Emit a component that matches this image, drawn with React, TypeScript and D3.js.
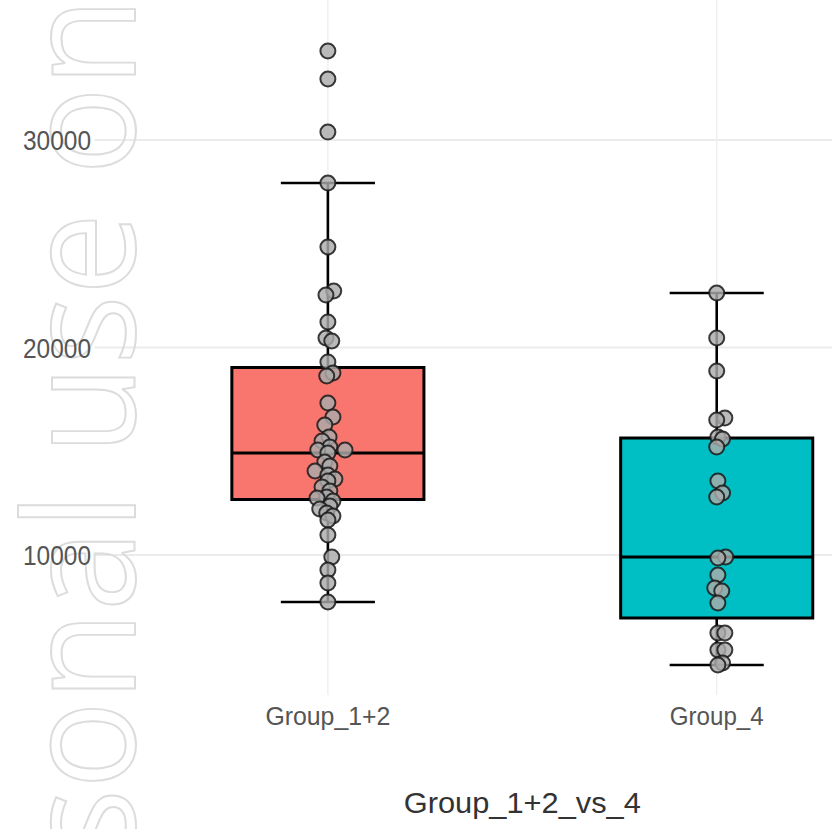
import React, { useEffect, useRef } from "react";
import * as d3 from "d3";

const categories = ["Group_1+2", "Group_4"];
const fills = ["#F8766D", "#00BFC4"];

const group12Values = [
  34289, 32939, 30384, 27927, 24843, 22722, 22530, 21228, 20457, 20313, 19301,
  18771, 18626, 17325, 16650, 16265, 15686, 15494, 15205, 15060, 15060, 14915,
  14482, 14289, 14048, 13855, 13662, 13566, 13277, 13084, 12795, 12747, 12602,
  12361, 12217, 12024, 11879, 11687, 10964, 9904, 9277, 8651, 7735,
];
const group12Jitter = [
  0, 0, 0, 0, 0, 0.015, -0.005, 0, -0.005, 0.01, 0, 0.013, -0.003, 0, 0.013,
  -0.008, 0.003, -0.015, 0.005, 0.044, -0.026, 0, -0.008, 0.005, -0.033, 0,
  0.018, 0, -0.015, 0.005, -0.003, -0.028, 0.013, 0.005, -0.021, -0.003, 0.013,
  0, 0, 0.01, 0, 0, 0,
];

const group4Values = [
  22626, 20457, 18867, 16602, 16506, 15686, 15590, 15205, 13566, 12988, 12795,
  9904, 9855, 9036, 8410, 8265, 7687, 6241, 6241, 5422, 5422, 4795, 4699,
];
const group4Jitter = [
  0, 0, 0, 0.021, 0, 0.003, 0.015, 0, 0.003, 0.015, 0, 0.023, 0.003, 0.003,
  -0.005, 0.013, 0.003, 0.003, 0.021, 0.003, 0.021, 0.015, 0.003,
];

const yTicks = [10000, 20000, 30000];
const yTickLabels = ["10000", "20000", "30000"];
const xTitle = "Group_1+2_vs_4";
const watermark = "For personal use only";

const W = 832;
const H = 829;

function stats(values: number[]) {
  const s = [...values].sort((a, b) => a - b);
  const q1 = d3.quantile(s, 0.25)!;
  const med = d3.quantile(s, 0.5)!;
  const q3 = d3.quantile(s, 0.75)!;
  const iqr = q3 - q1;
  const lo = d3.min(s.filter((v) => v >= q1 - 1.5 * iqr))!;
  const hi = d3.max(s.filter((v) => v <= q3 + 1.5 * iqr))!;
  return { q1, med, q3, lo, hi };
}

export default function App() {
  const wmRef = useRef<SVGTextElement>(null);

  const panelLeft = 94.6;
  const panelRight = 950;
  const panelBottom = 695;

  const x = d3
    .scalePoint<string>()
    .domain(categories)
    .range([panelLeft, panelRight])
    .padding(0.6);
  const step = x.step();
  const y = d3.scaleLinear().domain([3253, 36747]).range([panelBottom, 0]);

  const groups = [
    { name: categories[0], values: group12Values, jitter: group12Jitter, fill: fills[0] },
    { name: categories[1], values: group4Values, jitter: group4Jitter, fill: fills[1] },
  ];

  useEffect(() => {
    const el = wmRef.current;
    if (!el) return;
    el.setAttribute("x", "0");
    el.setAttribute("transform", "rotate(-90)");
    const i0 = watermark.indexOf("sonal") + 1; // 'o'
    const i1 = watermark.indexOf(" only") + 2; // 'n'
    const p0 = el.getStartPositionOfChar(i0).x;
    const p1 = el.getEndPositionOfChar(i1).x;
    const startScreen = 789;
    const endScreen = -3;
    const s = (startScreen - endScreen) / (p1 - p0);
    el.setAttribute("transform", `rotate(-90) scale(${s},1)`);
    el.setAttribute("x", String(-startScreen / s - p0));
  }, []);

  const boxW = 0.494 * step;
  const capW = 0.242 * step;

  return (
    <svg
      width={W}
      height={H}
      style={{ position: "absolute", left: 0, top: 0, background: "#fff" }}
    >
      <rect x={0} y={0} width={W} height={H} fill="#fff" />
      {yTicks.map((t) => (
        <line
          key={"h" + t}
          x1={panelLeft}
          x2={panelRight}
          y1={y(t)}
          y2={y(t)}
          stroke="#ebebeb"
          strokeWidth={2}
        />
      ))}
      {categories.map((c) => (
        <line
          key={"v" + c}
          x1={x(c)}
          x2={x(c)}
          y1={0}
          y2={panelBottom}
          stroke="#efefef"
          strokeWidth={1.5}
        />
      ))}
      <text
        ref={wmRef}
        transform="rotate(-90)"
        x={-789}
        y={135}
        fontFamily="'Open Sans', sans-serif"
        fontSize={154}
        fill="none"
        stroke="#dcdcdc"
        strokeWidth={2}
      >
        {watermark}
      </text>
      {groups.map((g) => {
        const s = stats(g.values);
        const cx = x(g.name)!;
        return (
          <g key={g.name}>
            <line x1={cx} x2={cx} y1={y(s.lo)} y2={y(s.hi)} stroke="#000" strokeWidth={2.6} />
            <line x1={cx - capW / 2} x2={cx + capW / 2} y1={y(s.hi)} y2={y(s.hi)} stroke="#000" strokeWidth={2.6} />
            <line x1={cx - capW / 2} x2={cx + capW / 2} y1={y(s.lo)} y2={y(s.lo)} stroke="#000" strokeWidth={2.6} />
            <rect
              x={cx - boxW / 2}
              y={y(s.q3)}
              width={boxW}
              height={y(s.q1) - y(s.q3)}
              fill={g.fill}
              stroke="#000"
              strokeWidth={3}
            />
            <line
              x1={cx - boxW / 2}
              x2={cx + boxW / 2}
              y1={y(s.med)}
              y2={y(s.med)}
              stroke="#000"
              strokeWidth={3}
            />
          </g>
        );
      })}
      {groups.map((g) =>
        g.values.map((v, i) => (
          <circle
            key={g.name + i}
            cx={x(g.name)! + g.jitter[i] * step}
            cy={y(v)}
            r={7.5}
            fill="#ababab"
            fillOpacity={0.82}
            stroke="#1a1a1a"
            strokeOpacity={0.85}
            strokeWidth={2}
          />
        ))
      )}
      {yTicks.map((t, i) => (
        <text
          key={"yl" + t}
          x={91}
          y={y(t)}
          dy="0.36em"
          textAnchor="end"
          fontFamily="'Liberation Sans', Arial, sans-serif"
          fontSize={28}
          fill="#555"
          textLength={68}
          lengthAdjust="spacingAndGlyphs"
        >
          {yTickLabels[i]}
        </text>
      ))}
      {categories.map((c, i) => (
        <text
          key={"xl" + c}
          x={x(c)}
          y={725}
          textAnchor="middle"
          fontFamily="'Liberation Sans', Arial, sans-serif"
          fontSize={25}
          fill="#555"
          textLength={i === 0 ? 125 : 94}
          lengthAdjust="spacingAndGlyphs"
        >
          {c}
        </text>
      ))}
      <text
        x={(panelLeft + panelRight) / 2}
        y={813}
        textAnchor="middle"
        fontFamily="'Liberation Sans', Arial, sans-serif"
        fontSize={30}
        fill="#333"
        textLength={237}
        lengthAdjust="spacingAndGlyphs"
      >
        {xTitle}
      </text>
    </svg>
  );
}
